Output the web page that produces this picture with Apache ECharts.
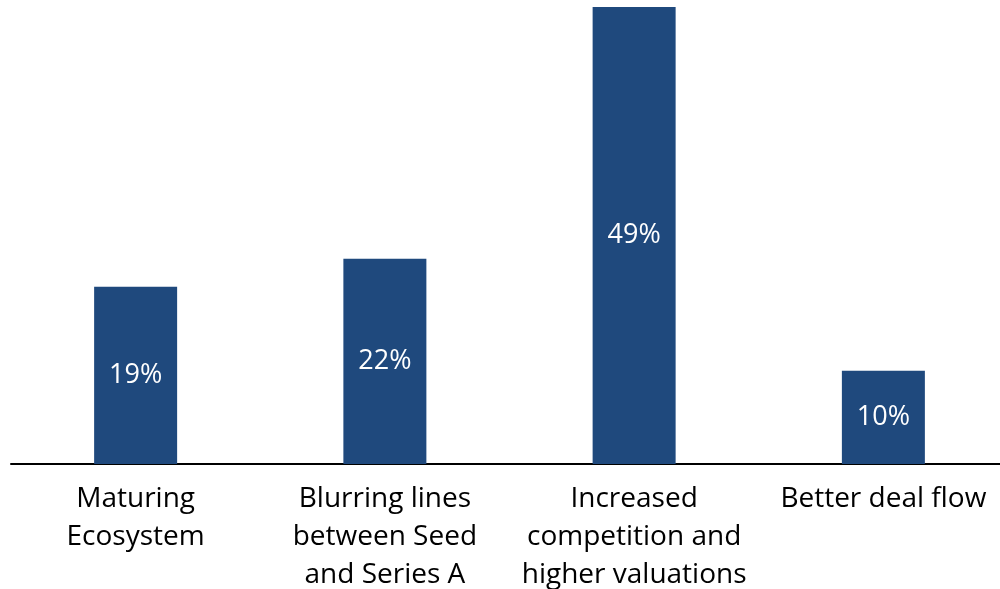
<!DOCTYPE html>
<html>
<head>
<meta charset="utf-8">
<script src="https://cdn.jsdelivr.net/npm/echarts@6/dist/echarts.min.js"></script>
<style>
  html, body { margin: 0; padding: 0; background: #ffffff; }
  #chart { width: 1000px; height: 589px; }
</style>
</head>
<body>
<div id="chart"></div>
<script>
// Reasons cited, share of respondents (%)
const categories = [
  'Maturing\nEcosystem',
  'Blurring lines\nbetween Seed\nand Series A',
  'Increased\ncompetition and\nhigher valuations',
  'Better deal flow'
];
const shares = [19, 22, 49, 10];

const FONT = '"Open Sans", "Noto Sans", sans-serif';

const chart = echarts.init(document.getElementById('chart'), null, { renderer: 'canvas' });
chart.setOption({
  animation: false,
  backgroundColor: '#ffffff',
  // plot area runs a little past the right edge of the canvas
  grid: { left: 11, width: 997, top: 7, bottom: 125, containLabel: false, outerBoundsMode: 'none' },
  xAxis: {
    type: 'category',
    data: categories,
    axisLine: { show: true, lineStyle: { color: '#000000', width: 2 } },
    axisTick: { show: false },
    axisLabel: {
      interval: 0,
      color: '#000000',
      fontFamily: FONT,
      fontSize: 28,
      lineHeight: 38,
      margin: 16,
      verticalAlign: 'top'
    }
  },
  yAxis: {
    type: 'value',
    min: 0,
    max: 49,
    show: false,
    splitLine: { show: false }
  },
  series: [{
    type: 'bar',
    data: shares,
    barWidth: 83,
    itemStyle: { color: '#1f497d' },
    label: {
      show: true,
      position: 'inside',
      color: '#ffffff',
      fontFamily: FONT,
      fontSize: 27,
      formatter: p => p.value + '%'
    }
  }]
});
</script>
</body>
</html>
